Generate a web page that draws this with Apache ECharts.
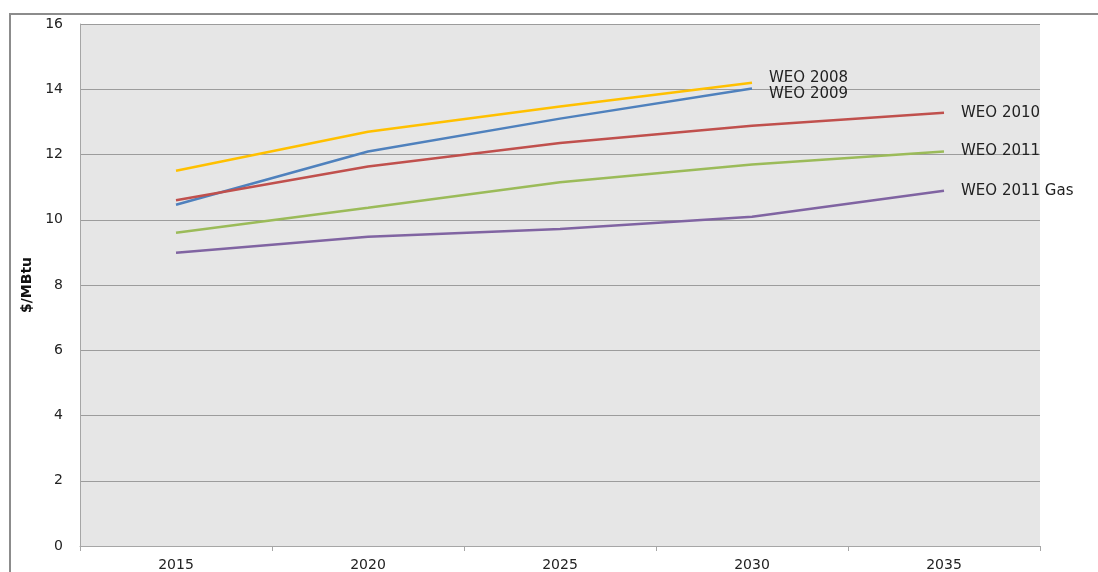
<!DOCTYPE html>
<html><head><meta charset="utf-8">
<script src="https://cdn.jsdelivr.net/npm/echarts@6/dist/echarts.min.js"></script>
<style>html,body{margin:0;padding:0;background:#fff}#c{width:1098px;height:572px}</style>
</head><body><div id="c"></div>
<script>
const categories = ['2015','2020','2025','2030','2035'];
const weo2008 = [11.5, 12.7, 13.47, 14.2, null];
const weo2009 = [10.46, 12.09, 13.1, 14.02, null];
const weo2010 = [10.6, 11.63, 12.35, 12.88, 13.28];
const weo2011 = [9.6, 10.37, 11.15, 11.69, 12.09];
const weo2011gas = [8.99, 9.48, 9.72, 10.09, 10.89];
const seriesNames = ['WEO 2008','WEO 2009','WEO 2010','WEO 2011','WEO 2011 Gas'];
const colors = ['#FFC000','#4F81BD','#C0504D','#9BBB59','#8064A2'];
const offsets = [[12,-5],[12,6],[12,0],[12,0],[12,0]];
const datas = [weo2008, weo2009, weo2010, weo2011, weo2011gas];
const font = '"DejaVu Sans", sans-serif';
const chart = echarts.init(document.getElementById('c'));
chart.setOption({
  animation:false,
  graphic:[{type:'rect',shape:{x:10,y:14,width:1100,height:570},style:{fill:'none',stroke:'#8c8c8c',lineWidth:2},z:-10}],
  grid:{left:80,right:58,top:24,bottom:26,show:true,backgroundColor:'#e6e6e6',borderWidth:0},
  xAxis:{type:'category',data:categories,boundaryGap:true,
    axisLine:{lineStyle:{color:'#a6a6a6',width:1}},
    axisTick:{show:true,length:5,lineStyle:{color:'#a6a6a6'}},
    axisLabel:{color:'#222',fontSize:14,fontFamily:font,margin:12}},
  yAxis:{type:'value',min:0,max:16,interval:2,name:'$/MBtu',nameLocation:'middle',nameGap:37,
    nameTextStyle:{fontWeight:'bold',fontSize:14,color:'#111',fontFamily:font},
    axisLine:{show:true,lineStyle:{color:'#a6a6a6'}},axisTick:{show:false},
    axisLabel:{color:'#222',fontSize:14,fontFamily:font,margin:17},
    splitLine:{lineStyle:{color:'#9c9c9c',width:1}}},
  series: datas.map((d,i)=>({name:seriesNames[i],type:'line',data:d,symbol:'none',
    lineStyle:{color:colors[i],width:2.5},itemStyle:{color:colors[i]},
    endLabel:{show:true,formatter:seriesNames[i],color:'#222',fontSize:15,fontFamily:font,offset:offsets[i],distance:5}}))
});
</script></body></html>
